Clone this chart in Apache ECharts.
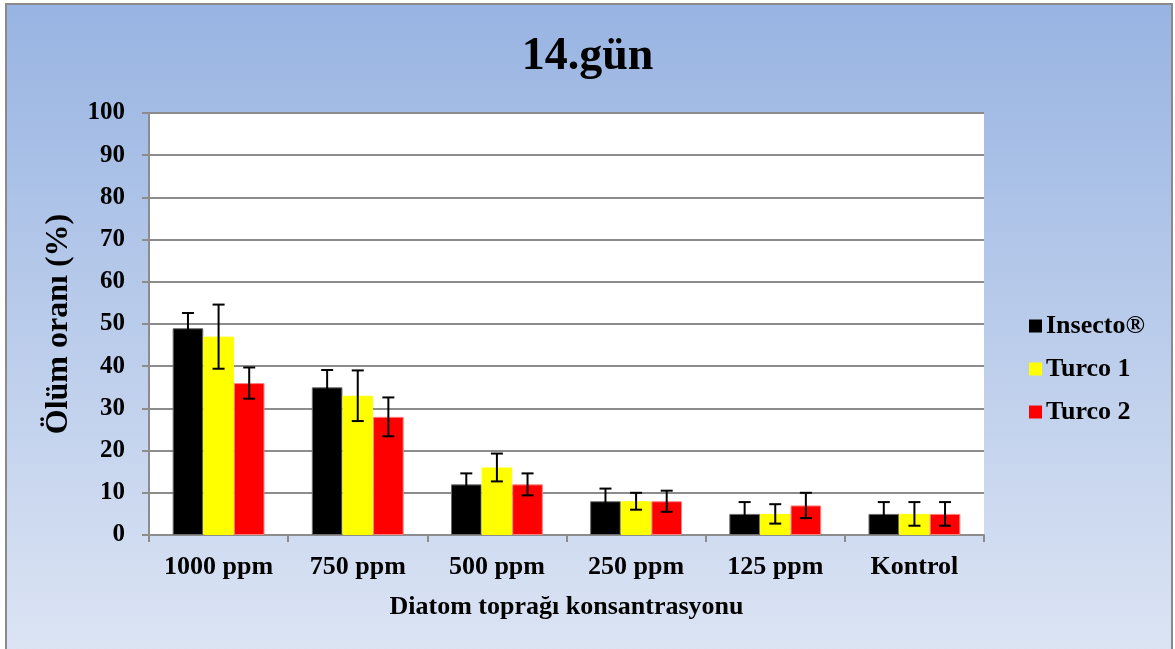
<!DOCTYPE html>
<html><head><meta charset="utf-8">
<script src="https://cdn.jsdelivr.net/npm/echarts@6/dist/echarts.min.js"></script>
<style>html,body{margin:0;padding:0;background:#fff}#c{width:1175px;height:649px}</style>
</head><body><div id="c"></div>
<script>
var categories = ['1000 ppm','750 ppm','500 ppm','250 ppm','125 ppm','Kontrol'];
var seriesNames = ['Insecto®','Turco 1','Turco 2'];
var insecto = [49, 35, 12, 8, 5, 5];
var turco1 = [47, 33, 16, 8, 5, 5];
var turco2 = [36, 28, 12, 8, 7, 5];
var insectoErr = [3.6, 4.1, 2.6, 3.0, 2.8, 2.8];
var turco1Err = [7.6, 6.0, 3.3, 2.0, 2.3, 2.8];
var turco2Err = [3.7, 4.6, 2.6, 2.5, 3.0, 2.8];
var yTicks = [0,10,20,30,40,50,60,70,80,90,100];

var colors = ['#000000','#FFFF00','#FF0000'];
var values = [insecto, turco1, turco2];
var errs = [insectoErr, turco1Err, turco2Err];
var FONT = '"Liberation Serif","Times New Roman",serif';
var GAP = 0.34;

var chart = echarts.init(document.getElementById('c'));
var series = [];
values.forEach(function(v, i){
  series.push({
    name: seriesNames[i], type: 'bar', data: v,
    barGap: '0%', barCategoryGap: (GAP*100)+'%',
    itemStyle: {color: colors[i], borderColor: i===0 ? '#6e6e6e' : (i===2 ? '#ff8080' : colors[i]), borderWidth: 1},
    z: 2
  });
});
values.forEach(function(v, i){
  var data = v.map(function(val, k){ return [k, val, errs[i][k]]; });
  series.push({
    type: 'custom', name: seriesNames[i] + ' err', data: data, z: 5,
    renderItem: function(params, api){
      var k = api.value(0), val = api.value(1), e = api.value(2);
      var band = api.size([1, 0])[0];
      var bw = band * (1 - GAP) / 3;
      var c = api.coord([k, val]);
      var x = c[0] + (i - 1) * bw;
      var yt = api.coord([k, val + e])[1];
      var yb = api.coord([k, val - e])[1];
      var hw = 6;
      var st = {stroke: '#000', lineWidth: 2};
      return {type: 'group', children: [
        {type: 'line', shape: {x1: x, y1: yt, x2: x, y2: yb}, style: st},
        {type: 'line', shape: {x1: x - hw, y1: yt, x2: x + hw, y2: yt}, style: st},
        {type: 'line', shape: {x1: x - hw, y1: yb, x2: x + hw, y2: yb}, style: st}
      ]};
    }
  });
});

chart.setOption({
  animation: false,
  backgroundColor: '#ffffff',
  graphic: [{
    type: 'rect', z: -10, silent: true,
    shape: {x: 6, y: 4, width: 1166, height: 660},
    style: {
      fill: {type: 'linear', x: 0, y: 0, x2: 0, y2: 1, colorStops: [
        {offset: 0, color: '#98B4E2'}, {offset: 1, color: '#DDE5F4'}]},
      stroke: '#8a8a8a', lineWidth: 2
    }
  }],
  title: {
    text: '14.gün', left: 'center', top: 29,
    textStyle: {fontFamily: FONT, fontWeight: 'bold', fontSize: 46, color: '#000'}
  },
  legend: {
    orient: 'vertical', left: 1024, top: 308,
    itemWidth: 13, itemHeight: 13, itemGap: 17,
    data: seriesNames.map(function(n, i){ return {name: n, icon: 'rect', itemStyle: {color: colors[i], borderWidth: 0}}; }),
    textStyle: {fontFamily: FONT, fontWeight: 'bold', fontSize: 26, color: '#000', padding: [0,0,0,-1]}
  },
  grid: {left: 149, right: 191, top: 113, bottom: 114, show: true, backgroundColor: '#ffffff', borderWidth: 0},
  xAxis: {
    type: 'category', data: categories,
    name: 'Diatom toprağı konsantrasyonu', nameLocation: 'middle', nameGap: 59,
    nameTextStyle: {fontFamily: FONT, fontWeight: 'bold', fontSize: 26, color: '#000'},
    axisLine: {lineStyle: {color: '#8c8c8c', width: 2}},
    axisTick: {show: true, interval: 0, length: 7, lineStyle: {color: '#8c8c8c', width: 2}},
    axisLabel: {interval: 0, hideOverlap: false, margin: 19, fontFamily: FONT, fontWeight: 'bold', fontSize: 26, color: '#000'}
  },
  yAxis: {
    type: 'value', min: 0, max: 100, interval: 10,
    name: 'Ölüm oranı (%)', nameLocation: 'middle', nameGap: 74, nameRotate: 90,
    nameTextStyle: {fontFamily: FONT, fontWeight: 'bold', fontSize: 32, color: '#000'},
    axisLine: {show: true, lineStyle: {color: '#8c8c8c', width: 2}},
    axisTick: {show: true, length: 7, lineStyle: {color: '#8c8c8c', width: 2}},
    axisLabel: {margin: 24, fontFamily: FONT, fontWeight: 'bold', fontSize: 25, color: '#000',
      formatter: function(v){ return yTicks.indexOf(v) >= 0 ? String(v) : ''; }},
    splitLine: {lineStyle: {color: '#8c8c8c', width: 2}}
  },
  series: series
});
</script></body></html>
